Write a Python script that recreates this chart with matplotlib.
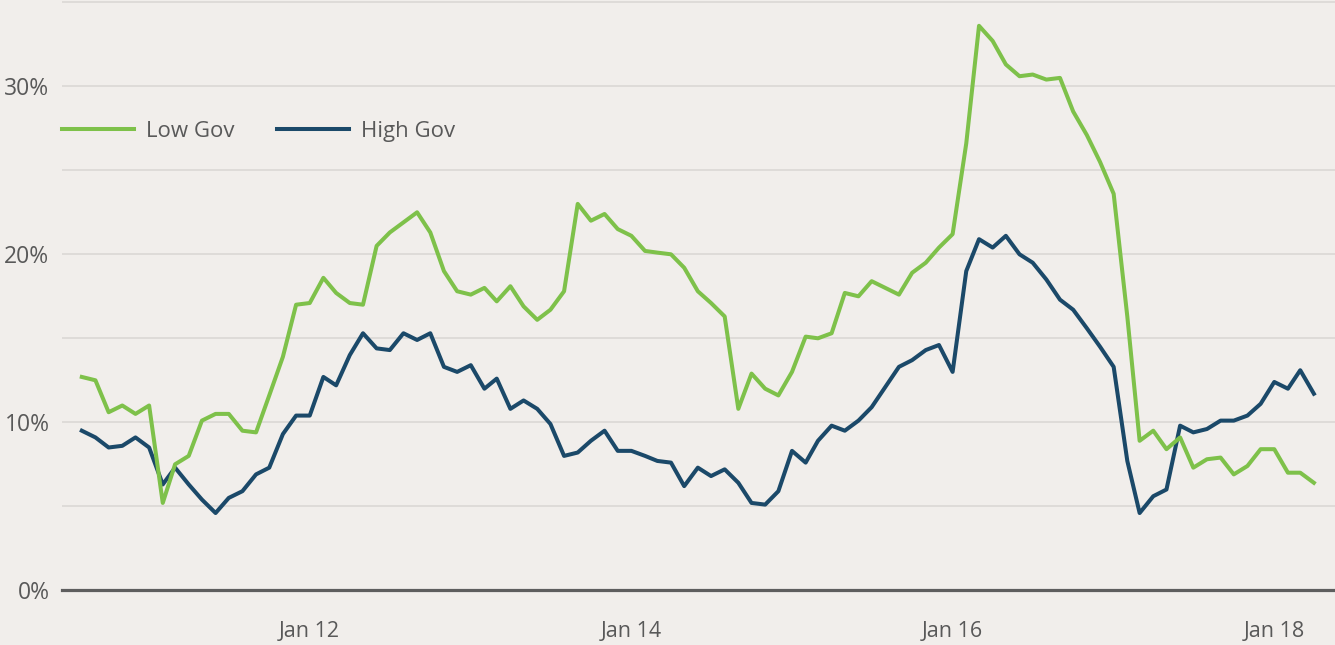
import numpy as np
import pandas as pd
import matplotlib
matplotlib.use("Agg")
import matplotlib.pyplot as plt

# monthly series, Aug 2010 - Apr 2018 (percent)
months = pd.date_range("2010-08-01", periods=93, freq="MS")

low_gov = [
    12.7, 12.5, 10.6, 11.0, 10.5, 11.0, 5.2, 7.5, 8.0, 10.1,
    10.5, 10.5, 9.5, 9.4, 11.6, 13.9, 17.0, 17.1, 18.6, 17.7,
    17.1, 17.0, 20.5, 21.3, 21.9, 22.5, 21.3, 19.0, 17.8, 17.6,
    18.0, 17.2, 18.1, 16.9, 16.1, 16.7, 17.8, 23.0, 22.0, 22.4,
    21.5, 21.1, 20.2, 20.1, 20.0, 19.2, 17.8, 17.1, 16.3, 10.8,
    12.9, 12.0, 11.6, 13.0, 15.1, 15.0, 15.3, 17.7, 17.5, 18.4,
    18.0, 17.6, 18.9, 19.5, 20.4, 21.2, 26.6, 33.6, 32.7, 31.3,
    30.6, 30.7, 30.4, 30.5, 28.5, 27.1, 25.5, 23.6, 16.3, 8.9,
    9.5, 8.4, 9.1, 7.3, 7.8, 7.9, 6.9, 7.4, 8.4, 8.4,
    7.0, 7.0, 6.4,
]

high_gov = [
    9.5, 9.1, 8.5, 8.6, 9.1, 8.5, 6.3, 7.3, 6.3, 5.4,
    4.6, 5.5, 5.9, 6.9, 7.3, 9.3, 10.4, 10.4, 12.7, 12.2,
    14.0, 15.3, 14.4, 14.3, 15.3, 14.9, 15.3, 13.3, 13.0, 13.4,
    12.0, 12.6, 10.8, 11.3, 10.8, 9.9, 8.0, 8.2, 8.9, 9.5,
    8.3, 8.3, 8.0, 7.7, 7.6, 6.2, 7.3, 6.8, 7.2, 6.4,
    5.2, 5.1, 5.9, 8.3, 7.6, 8.9, 9.8, 9.5, 10.1, 10.9,
    12.1, 13.3, 13.7, 14.3, 14.6, 13.0, 19.0, 20.9, 20.4, 21.1,
    20.0, 19.5, 18.5, 17.3, 16.7, 15.6, 14.5, 13.3, 7.7, 4.6,
    5.6, 6.0, 9.8, 9.4, 9.6, 10.1, 10.1, 10.4, 11.1, 12.4,
    12.0, 13.1, 11.7,
]

x_ticks = pd.to_datetime(["2012-01-01", "2014-01-01", "2016-01-01", "2018-01-01"])
x_labels = ["Jan 12", "Jan 14", "Jan 16", "Jan 18"]
y_ticks = [0, 10, 20, 30]
y_labels = ["0%", "10%", "20%", "30%"]

bg = "#F1EEEB"
green = "#7EC14A"
navy = "#1B4969"
text_col = "#595959"

plt.rcParams["font.family"] = ["Open Sans", "DejaVu Sans"]

fig = plt.figure(figsize=(13.35, 6.45), dpi=100, facecolor=bg)
ax = fig.add_axes([62 / 1335, (645 - 590.3) / 645, 1 - 62 / 1335, 590.3 / 645])
ax.set_facecolor(bg)

# grid every 5%
for g in np.arange(5, 36, 5):
    ax.axhline(g, color="#DDDAD6", lw=1.3, zorder=1)
ax.axhline(0, color="#5E5E5E", lw=2.3, zorder=2, clip_on=False)

l_hi, = ax.plot(months, high_gov, color=navy, lw=2.9, zorder=3, label="High Gov")
l_lo, = ax.plot(months, low_gov, color=green, lw=2.9, zorder=4, label="Low Gov")

ax.set_ylim(0, 590.3 / 16.8)
ax.set_xlim(pd.Timestamp("2010-06-17"), pd.Timestamp("2018-05-19"))

ax.set_yticks(y_ticks)
ax.set_yticklabels(y_labels)
ax.set_xticks(x_ticks)
ax.set_xticklabels(x_labels)
ax.tick_params(axis="both", length=0, colors=text_col)
ax.tick_params(axis="y", pad=9, labelsize=16.5)
ax.tick_params(axis="x", pad=22, labelsize=15.5)
for s in ax.spines.values():
    s.set_visible(False)

leg = ax.legend(handles=[l_lo, l_hi], loc="center left",
                bbox_to_anchor=(0, 1 - 131.5 / 590.3), ncol=2, frameon=False,
                fontsize=16, handlelength=3.24, handletextpad=0.54,
                columnspacing=1.9, borderaxespad=0, borderpad=0)
for t in leg.get_texts():
    t.set_color(text_col)

fig.savefig("out.png", dpi=100, facecolor=bg)
